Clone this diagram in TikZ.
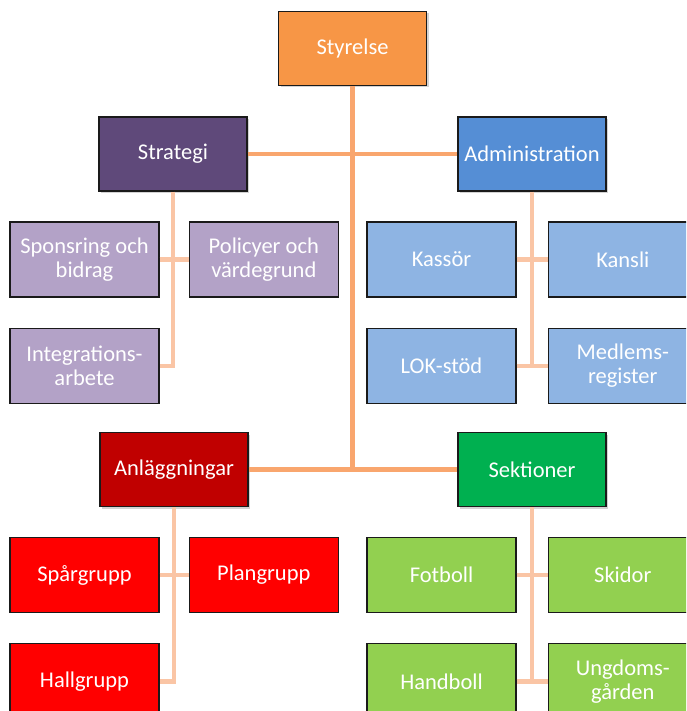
\documentclass[tikz,border=0pt]{standalone}
\usepackage{fontspec}
\setmainfont{Carlito}
\usepackage{tikz}
\usetikzlibrary{positioning, shadows}
\usepackage{xcolor}
\definecolor{BoardOrange}{HTML}{F79646}
\definecolor{StratPurple}{HTML}{5F497A}
\definecolor{LitePurple}{HTML}{B3A2C7}
\definecolor{AdminBlue}{HTML}{558ED5}
\definecolor{LiteBlue}{HTML}{8EB4E3}
\definecolor{DarkRed}{HTML}{C00000}
\definecolor{BrightRed}{HTML}{FF0000}
\definecolor{SectGreen}{HTML}{00B050}
\definecolor{LiteGreen}{HTML}{92D050}
\definecolor{TrunkOrange}{HTML}{F9A66E}
\definecolor{BranchPeach}{HTML}{FAC5A5}
\definecolor{RichBlack}{HTML}{1A1A1A}
\tikzset{%
  head_block/.style={%
    rectangle,%
    draw=RichBlack,%
    line width=1.3pt,%
    minimum width=148pt,%
    minimum height=74pt,%
    text=white,%
    font={\fontsize{22.5}{24}\selectfont},%
    align=center,%
    drop shadow={shadow xshift=2pt, shadow yshift=-2pt, opacity=0.35},%
  },
  sub_block/.style={%
    rectangle,%
    draw=RichBlack,%
    line width=1.3pt,%
    minimum width=149pt,%
    minimum height=75pt,%
    text=white,%
    font={\fontsize{22.5}{24}\selectfont},%
    align=center,%
  },
  trunk_path/.style={%
    color=TrunkOrange,%
    line width=4.5pt,%
  },
  branch_path/.style={%
    color=BranchPeach,%
    line width=4.5pt,%
  },
}
\begin{document}
\begin{tikzpicture}[x=1pt, y=1pt]

    \useasboundingbox (0,0) rectangle (686,-711);
    \clip (0,0) rectangle (686,-711);

    \coordinate (trunk_end) at (352.5,-469.5);

    \node [head_block, fill=BoardOrange] (Styrelse) at (352.5,-48.5) {Styrelse};
    \node [head_block, fill=StratPurple] (Strategi) at (173,-154) {Strategi};
    \node [head_block, fill=AdminBlue] (Administration) at (532,-154) {Administration};
    \node [head_block, fill=DarkRed] (Anlaggningar) at (174,-469.5) {Anläggningar};
    \node [head_block, fill=SectGreen] (Sektioner) at (532,-469.5) {Sektioner};

    \node [sub_block, fill=LitePurple] (Sponsring) at (84.5,-259.5) {Sponsring och\\bidrag};
    \node [sub_block, fill=LitePurple, right = 29pt of Sponsring] (Policyer) {Policyer och\\värdegrund};
    \node [sub_block, fill=LitePurple, below = 30pt of Sponsring] (Integration) {Integrations-\\arbete};

    \node [sub_block, fill=LiteBlue] (Kassor) at (441.5,-259.5) {Kassör};
    \node [sub_block, fill=LiteBlue, right = 31pt of Kassor] (Kansli) {Kansli};
    \node [sub_block, fill=LiteBlue, below = 30pt of Kassor] (LOK) {LOK-stöd};
    \node [sub_block, fill=LiteBlue, right = 31pt of LOK] (Medlem) {Medlems-\\register};

    \node [sub_block, fill=BrightRed] (Spargrupp) at (84.5,-575) {Spårgrupp};
    \node [sub_block, fill=BrightRed, right = 29pt of Spargrupp] (Plangrupp) {Plangrupp};
    \node [sub_block, fill=BrightRed, below = 30pt of Spargrupp] (Hallgrupp) {Hallgrupp};

    \node [sub_block, fill=LiteGreen] (Fotboll) at (441.5,-575) {Fotboll};
    \node [sub_block, fill=LiteGreen, right = 31pt of Fotboll] (Skidor) {Skidor};
    \node [sub_block, fill=LiteGreen, below = 30pt of Fotboll] (Handboll) {Handboll};
    \node [sub_block, fill=LiteGreen, right = 31pt of Handboll] (Ungdom) {Ungdoms-\\gården};

    % trunk from the board down to the two lower heads
    \draw [trunk_path] (Styrelse.south) -- (trunk_end);
    \draw [trunk_path] (Strategi.east) -- (Administration.west);
    \draw [trunk_path] (Anlaggningar.east) -- (Sektioner.west);

    % branches to the groups
    \draw [branch_path] (Strategi.south) |- (Integration.east);
    \draw [branch_path] (Sponsring.east) -- (Policyer.west);
    \draw [branch_path] (Administration.south) -- (Administration.south |- LOK.east);
    \draw [branch_path] (Kassor.east) -- (Kansli.west);
    \draw [branch_path] (LOK.east) -- (Medlem.west);
    \draw [branch_path] (Anlaggningar.south) |- (Hallgrupp.east);
    \draw [branch_path] (Spargrupp.east) -- (Plangrupp.west);
    \draw [branch_path] (Sektioner.south) -- (Sektioner.south |- Handboll.east);
    \draw [branch_path] (Fotboll.east) -- (Skidor.west);
    \draw [branch_path] (Handboll.east) -- (Ungdom.west);
  \end{tikzpicture}
\end{document}
